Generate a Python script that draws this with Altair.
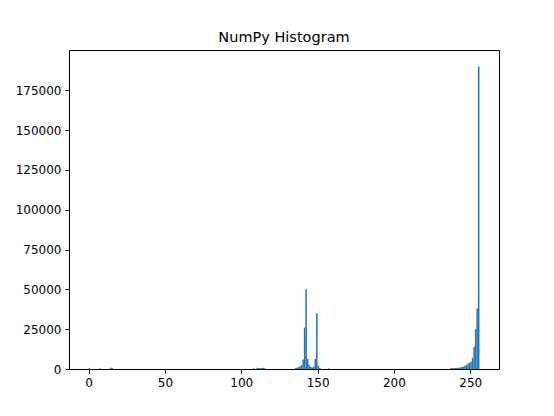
import altair as alt
import pandas as pd

# Histogram bins (left edges, width 1) and counts
bins = [0, 7, 14, 15,
        108, 110, 111, 112, 113, 114, 115,
        135, 136, 137, 138, 139, 140, 141, 142, 143, 144, 145, 146, 147, 148, 149, 150, 151,
        157,
        237, 238, 239, 240, 241, 242, 243, 244, 245, 246, 247, 248, 249, 250,
        251, 252, 253, 254, 255]
counts = [700, 500, 800, 600,
          500, 700, 600, 500, 700, 700, 500,
          500, 800, 1200, 1800, 2500, 6000, 26000, 50000, 6200, 2500, 1300, 900, 1500, 6300, 35000, 2000, 600,
          400,
          600, 600, 600, 700, 700, 800, 1000, 1200, 1500, 2000, 2500, 3500, 4000, 4500,
          7000, 14000, 25000, 38000, 190000]

df = pd.DataFrame({"start": bins, "count": counts})
df["end"] = df["start"] + 1

x_ticks = [0, 50, 100, 150, 200, 250]
y_ticks = [0, 25000, 50000, 75000, 100000, 125000, 150000, 175000]

chart = alt.Chart(df).mark_rect(color="#1f77b4").encode(
    x=alt.X("start:Q", scale=alt.Scale(domain=[-12.8, 268.8], nice=False, zero=False),
            axis=alt.Axis(values=x_ticks, title=None, grid=False, format="d")),
    x2="end:Q",
    y=alt.Y("count:Q", scale=alt.Scale(domain=[0, 200300], nice=False),
            axis=alt.Axis(values=y_ticks, title=None, grid=False, format="d")),
    y2=alt.datum(0),
).properties(
    width=430,
    height=319,
    title=alt.Title("NumPy Histogram", fontSize=14.5, font="DejaVu Sans",
                    fontWeight="normal", color="black", offset=5),
    autosize=alt.AutoSizeParams(type="none"),
    padding={"left": 61, "top": 42, "right": 40, "bottom": 40},
).configure_view(
    stroke="black", strokeWidth=1
).configure_axis(
    domainColor="black", tickColor="black", labelColor="black",
    labelFont="DejaVu Sans", labelFontSize=12, tickSize=4, labelPadding=4,
    domainWidth=1, tickWidth=1
)

chart.save("out.html", embed_options={"renderer": "svg", "actions": False})
